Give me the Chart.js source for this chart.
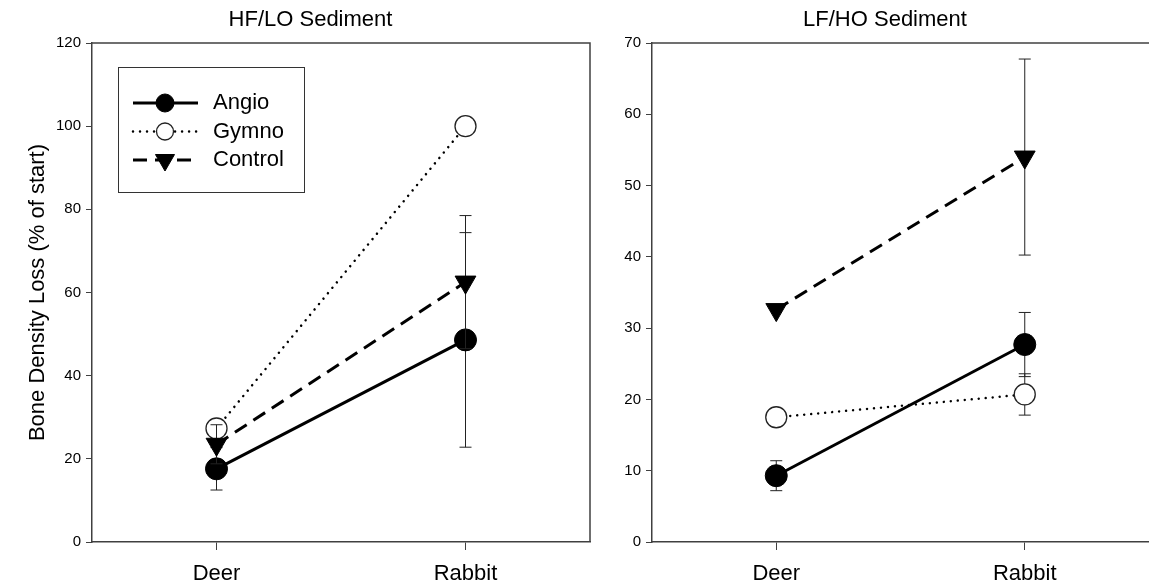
<!DOCTYPE html>
<html lang="en">
<head>
<meta charset="UTF-8">
<title>Bone Density Loss</title>
<script src="https://cdn.jsdelivr.net/npm/chart.js"></script>
<style>
  body { margin: 0; background: #fff; }
  #wrap { position: relative; width: 1149px; height: 587px; overflow: hidden; }
  .panel { position: absolute; top: 0; }
  #left { left: 0; }
  #right { left: 621px; }
</style>
</head>
<body>
<div id="wrap">
  <div class="panel" id="left"><canvas id="hfChart" width="621" height="587"></canvas></div>
  <div class="panel" id="right"><canvas id="lfChart" width="528" height="587"></canvas></div>
</div>
<script>
const bones = ['Deer', 'Rabbit'];
const seriesNames = ['Angio', 'Gymno', 'Control'];

// HF/LO sediment, mean and error
const hfAngio = [17.6, 48.6];
const hfAngioErr = [5.1, 25.8];
const hfGymno = [27.3, 100];
const hfGymnoErr = [0, 0];
const hfControl = [23.5, 62.5];
const hfControlErr = [4.7, 16];
const hfTicks = [0, 20, 40, 60, 80, 100, 120];

// LF/HO sediment, mean and error
const lfAngio = [9.3, 27.7];
const lfAngioErr = [2.1, 4.5];
const lfGymno = [17.5, 20.7];
const lfGymnoErr = [0, 2.9];
const lfControl = [32.6, 54];
const lfControlErr = [0, 13.75];
const lfTicks = [0, 10, 20, 30, 40, 50, 60, 70];

Chart.defaults.font.family = "'Liberation Sans', Arial, sans-serif";
Chart.defaults.color = '#000';

const frameColor = '#404040';

function marker(ctx, style, x, y, r) {
  ctx.save();
  ctx.beginPath();
  if (style.pointStyle === 'triangle') {
    // pointing down, same geometry as the library's rotated triangle
    for (let k = 0; k < 3; k++) {
      const a = Math.PI + k * 2 * Math.PI / 3;
      const px = x + Math.sin(a) * r, py = y - Math.cos(a) * r;
      k ? ctx.lineTo(px, py) : ctx.moveTo(px, py);
    }
    ctx.closePath();
  } else {
    ctx.arc(x, y, r, 0, Math.PI * 2);
  }
  ctx.fillStyle = style.pointBackgroundColor;
  ctx.fill();
  ctx.lineWidth = style.pointBorderWidth;
  ctx.strokeStyle = style.pointBorderColor;
  ctx.stroke();
  ctx.restore();
}

// error bars go down just before each series so its own markers sit on top
const errorBars = {
  id: 'errorBars',
  beforeDatasetDraw(chart, args) {
    const ds = chart.data.datasets[args.index];
    const y = chart.scales.y;
    const ctx = chart.ctx;
    ctx.save();
    ctx.strokeStyle = '#222';
    ctx.lineWidth = 1;
    args.meta.data.forEach((pt, i) => {
      const e = ds.errors[i];
      if (!e) return;
      const top = y.getPixelForValue(ds.data[i] + e);
      const bot = y.getPixelForValue(ds.data[i] - e);
      ctx.beginPath();
      ctx.moveTo(pt.x, top); ctx.lineTo(pt.x, bot);
      ctx.moveTo(pt.x - 6, top); ctx.lineTo(pt.x + 6, top);
      ctx.moveTo(pt.x - 6, bot); ctx.lineTo(pt.x + 6, bot);
      ctx.stroke();
    });
    ctx.restore();
  }
};

// top (and optionally right) edge of the plot box
const frame = {
  id: 'frame',
  afterDraw(chart, args, opts) {
    const { ctx, chartArea: a } = chart;
    ctx.save();
    ctx.strokeStyle = frameColor;
    ctx.lineWidth = 1.5;
    ctx.beginPath();
    ctx.moveTo(a.left, a.top);
    ctx.lineTo(a.right, a.top);
    if (opts.right) ctx.lineTo(a.right, a.bottom);
    ctx.stroke();
    ctx.restore();
  }
};

// boxed legend inside the plot, line sample with marker
const boxLegend = {
  id: 'boxLegend',
  afterDraw(chart, args, opts) {
    if (!opts.show) return;
    const { ctx, chartArea: a } = chart;
    const left = a.left + 26, top = a.top + 24;
    ctx.save();
    ctx.strokeStyle = '#333';
    ctx.lineWidth = 1;
    ctx.strokeRect(left + 0.5, top + 0.5, 186, 125);
    const radii = [9, 8.5, 11];
    chart.data.datasets.forEach((ds, i) => {
      const cy = top + 36 + i * 28.5;
      ctx.save();
      ctx.strokeStyle = '#000';
      ctx.lineWidth = ds.borderWidth;
      ctx.lineCap = ds.borderCapStyle || 'butt';
      ctx.setLineDash(ds.borderDash || []);
      ctx.beginPath();
      ctx.moveTo(left + 15, cy);
      ctx.lineTo(left + 80, cy);
      ctx.stroke();
      ctx.restore();
      marker(ctx, ds, left + 47, cy, radii[i]);
      ctx.fillStyle = '#000';
      ctx.font = "22px 'Liberation Sans', Arial, sans-serif";
      ctx.textBaseline = 'middle';
      ctx.fillText(ds.label, left + 95, cy);
    });
    ctx.restore();
  }
};

function makeSeries(angio, angioErr, gymno, gymnoErr, control, controlErr) {
  return [
    {
      label: seriesNames[0], data: angio, errors: angioErr, order: 2,
      borderColor: '#000', borderWidth: 3,
      pointStyle: 'circle', pointRadius: 11, pointHoverRadius: 11,
      pointBackgroundColor: '#000', pointBorderColor: '#000', pointBorderWidth: 1
    },
    {
      label: seriesNames[1], data: gymno, errors: gymnoErr, order: 1,
      borderColor: '#000', borderWidth: 2.5, borderDash: [0.01, 7], borderCapStyle: 'round',
      pointStyle: 'circle', pointRadius: 10.5, pointHoverRadius: 10.5,
      pointBackgroundColor: '#fff', pointBorderColor: '#222', pointBorderWidth: 1.3
    },
    {
      label: seriesNames[2], data: control, errors: controlErr, order: 0,
      borderColor: '#000', borderWidth: 3, borderDash: [14, 8],
      pointStyle: 'triangle', rotation: 180, pointRadius: 12, pointHoverRadius: 12,
      pointBackgroundColor: '#000', pointBorderColor: '#000', pointBorderWidth: 1
    }
  ];
}

function makeChart(id, title, datasets, ticks, yWidth, showTitle, showLegend, rightEdge, gapRight) {
  return new Chart(document.getElementById(id), {
    type: 'line',
    data: { labels: bones, datasets: datasets },
    options: {
      responsive: false,
      animation: false,
      clip: false,
      layout: { autoPadding: false, padding: 0 },
      plugins: {
        legend: { display: false },
        tooltip: { enabled: false },
        title: {
          display: true, text: title, color: '#000',
          font: { size: 22, weight: 'normal' },
          padding: { top: 7, bottom: 9.6 }
        },
        frame: { right: rightEdge },
        boxLegend: { show: showLegend }
      },
      scales: {
        x: {
          type: 'category',
          offset: true,
          afterFit: s => { s.height = 45; s.paddingLeft = 0; s.paddingRight = 0; },
          border: { color: frameColor, width: 1.5 },
          grid: { drawOnChartArea: false, tickLength: 8, color: frameColor, offset: false },
          ticks: { font: { size: 22 }, padding: 11, color: '#000', maxRotation: 0 }
        },
        y: {
          min: ticks[0], max: ticks[ticks.length - 1],
          afterBuildTicks: s => { s.ticks = ticks.map(v => ({ value: v })); },
          afterFit: s => { s.width = yWidth; },
          border: { color: frameColor, width: 1.5 },
          grid: { drawOnChartArea: false, tickLength: 6, color: frameColor },
          ticks: { font: { size: 15 }, padding: 5, color: '#000' },
          title: {
            display: showTitle, text: 'Bone Density Loss (% of start)',
            font: { size: 22 }, color: '#000', padding: { top: 25, bottom: 0 }
          }
        },
        // empty right-hand axis that only keeps the gap between the panels
        gap: {
          position: 'right',
          display: gapRight > 0,
          min: 0, max: 1,
          afterFit: s => { s.width = gapRight; },
          border: { display: false },
          grid: { display: false },
          ticks: { display: false }
        }
      }
    },
    plugins: [errorBars, frame, boxLegend]
  });
}

makeChart('hfChart', 'HF/LO Sediment',
  makeSeries(hfAngio, hfAngioErr, hfGymno, hfGymnoErr, hfControl, hfControlErr),
  hfTicks, 92, true, true, true, 31);

makeChart('lfChart', 'LF/HO Sediment',
  makeSeries(lfAngio, lfAngioErr, lfGymno, lfGymnoErr, lfControl, lfControlErr),
  lfTicks, 31, false, false, false, 0);
</script>
</body>
</html>
